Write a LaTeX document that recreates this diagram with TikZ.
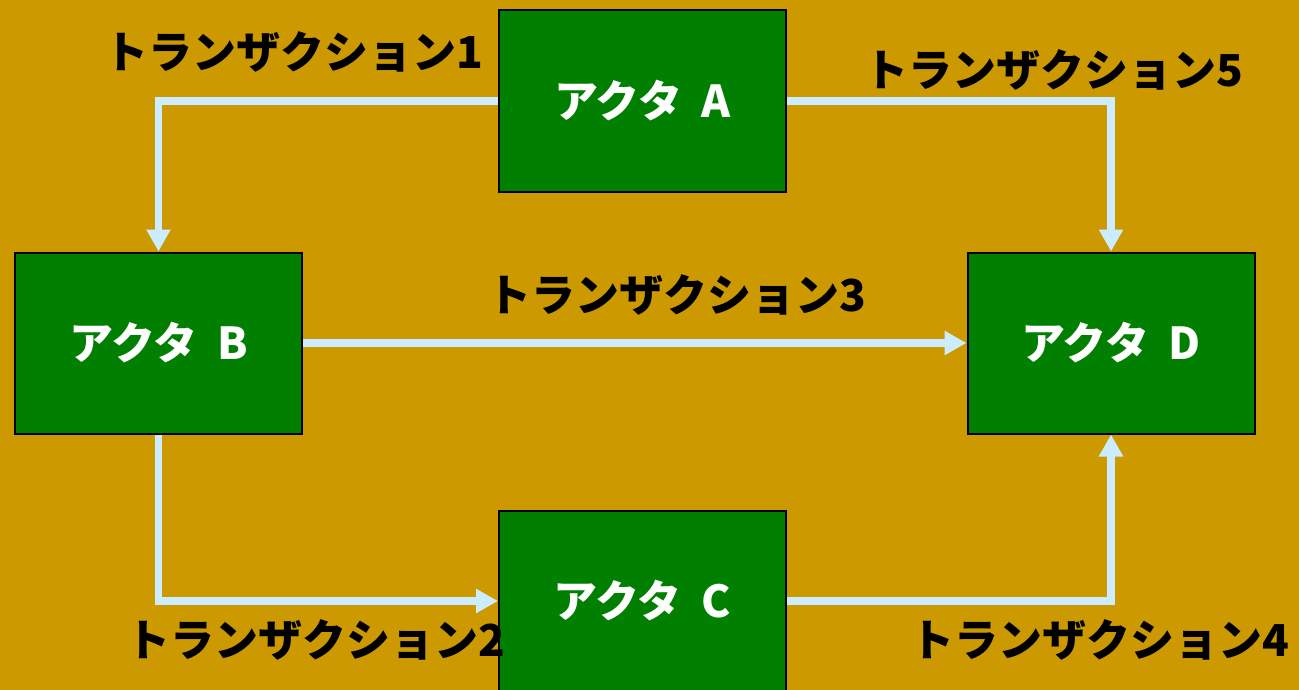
\documentclass[tikz,border=0pt]{standalone}
\usepackage{fontspec}
\setmainfont{Noto Sans CJK JP}
\usetikzlibrary{arrows.meta}
\definecolor{bgc}{RGB}{204,153,0}
\definecolor{boxg}{RGB}{0,127,0}
\definecolor{linec}{RGB}{204,236,255}
\newcommand{\actortext}[1]{アクタ\hspace{0.45em}#1}
\begin{document}
\begin{tikzpicture}[x=1pt,y=-1pt,
  actor/.style={draw=black,line width=2pt,fill=boxg,minimum width=287pt,minimum height=181pt,inner sep=0pt,text=white,font=\fontsize{44}{48}\selectfont\bfseries},
  tlabel/.style={inner sep=0pt,text=black,font=\fontsize{44}{48}\selectfont\bfseries},
  conn/.style={draw=linec,line width=7.5pt,-{Triangle[length=22pt,width=23pt]}}]
\useasboundingbox (0,0) rectangle (1299,690);
\fill[bgc] (0,0) rectangle (1299,690);
\begin{scope}
\clip (0,0) rectangle (1299,690);
\node[actor] (A) at (642.5,101) {\actortext{A}};
\node[actor] (B) at (158.5,343) {\actortext{B}};
\node[actor] (D) at (1111,343) {\actortext{D}};
\node[actor,minimum height=184pt] (C) at (642.5,603) {};
\node[inner sep=0pt,text=white,font=\fontsize{44}{48}\selectfont\bfseries] (Ct) at (642.5,601) {\actortext{C}};
\end{scope}
\draw[conn] (A.west) -| (B.north);
\draw[conn] (A.east) -| (D.north);
\draw[conn] (B.east) -- (D.west);
\draw[conn] (B.south) |- (C.west |- Ct.center);
\draw[conn] (C.east |- Ct.center) -| (D.south);
\node[tlabel] (t1) at (294,52) {トランザクション1};
\node[tlabel] (t5) at (1054,70) {トランザクション5};
\node[tlabel] (t3) at (677,295) {トランザクション3};
\node[tlabel] (t2) at (316,640) {トランザクション2};
\node[tlabel] (t4) at (1100,640) {トランザクション4};
\end{tikzpicture}
\end{document}
